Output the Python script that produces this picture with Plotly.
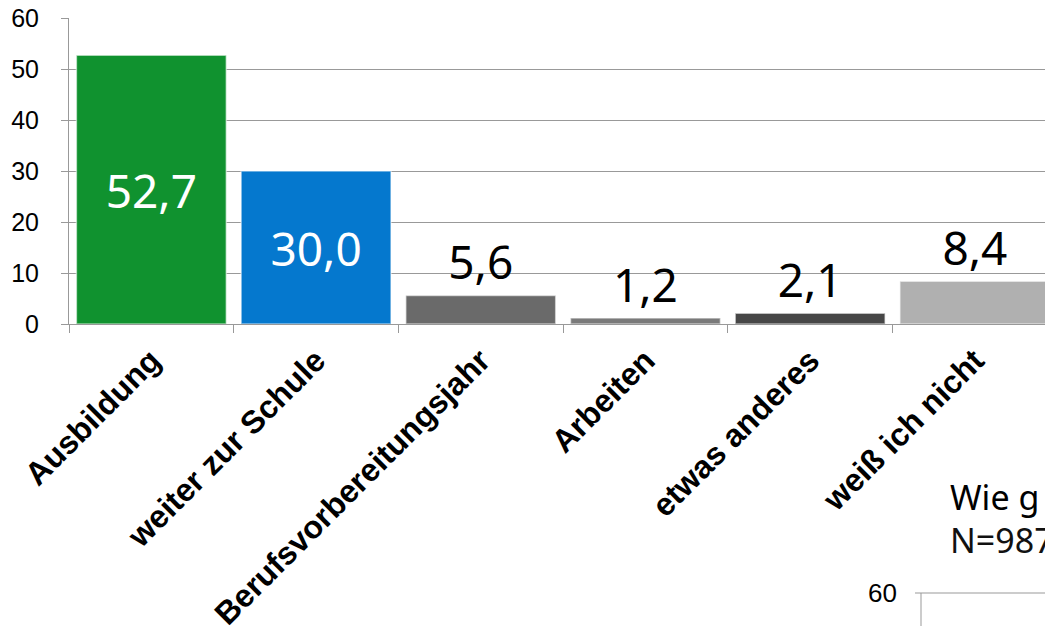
import plotly.graph_objects as go

categories = ["Ausbildung", "weiter zur Schule", "Berufsvorbereitungsjahr",
              "Arbeiten", "etwas anderes", "weiß ich nicht"]
values = [52.7, 30.0, 5.6, 1.2, 2.1, 8.4]
colors = ["#10922F", "#0578CE", "#6A6A6A", "#7A7A7A", "#474747", "#B0B0B0"]
label_pos = ["inside", "inside", "outside", "outside", "outside", "outside"]
label_colors = ["white", "white", "black", "black", "black", "black"]
y_ticks = [0, 10, 20, 30, 40, 50, 60]

W, H = 1045, 626
L, R, T, B = 69, 0, 18, 302

def px(x):
    return (x - L) / (W - L - R)

def py(y):
    return (H - B - y) / (H - T - B)

texts = [f"{v:.1f}".replace(".", ",") for v in values]

fig = go.Figure()
fig.add_trace(go.Bar(
    x=categories, y=values,
    marker=dict(color=colors, line=dict(color="rgba(255,255,255,0.55)", width=1.5)),
    width=0.91,
    text=texts, textposition=label_pos, insidetextanchor="middle",
    textfont=dict(family="Noto Sans", size=46, color=label_colors),
    constraintext="none", cliponaxis=False,
))

fig.update_layout(
    width=W, height=H,
    margin=dict(l=L, r=R, t=T, b=B, pad=0, autoexpand=False),
    plot_bgcolor="white", paper_bgcolor="white",
    showlegend=False,
    bargap=0.09,
    xaxis=dict(
        range=[-0.5, -0.5 + (W - L) / 164.7],
        automargin=False,
        tickangle=-45, tickson="boundaries", ticks="outside", ticklen=8,
        tickcolor="#999999", tickwidth=1,
        showline=True, linecolor="#999999", linewidth=1,
        tickfont=dict(family="Liberation Sans", size=32, color="black", weight="bold"),
        ticklabelstandoff=4,
        showgrid=False,
    ),
    yaxis=dict(
        range=[0, 60], tickvals=y_ticks, ticks="outside", ticklen=7,
        automargin=False,
        tickcolor="#999999", showline=True, linecolor="#999999", linewidth=1,
        gridcolor="#999999", gridwidth=1, zeroline=False,
        tickfont=dict(family="Liberation Sans", size=25, color="black"),
        ticklabelstandoff=17,
    ),
)

# partially visible next chart (bottom right)
fig.add_annotation(xref="paper", yref="paper", x=px(948), y=py(497), text="Wie g",
                   showarrow=False, xanchor="left", yanchor="middle",
                   font=dict(family="Noto Sans", size=34, color="black"))
fig.add_annotation(xref="paper", yref="paper", x=px(948), y=py(540), text="N=987",
                   showarrow=False, xanchor="left", yanchor="middle",
                   font=dict(family="Noto Sans", size=34, color="#111111"))
fig.add_annotation(xref="paper", yref="paper", x=px(899), y=py(593), text="60",
                   showarrow=False, xanchor="right", yanchor="middle",
                   font=dict(family="Liberation Sans", size=26, color="black"))
fig.add_annotation(xref="paper", yref="paper", x=px(899), y=py(636), text="50",
                   showarrow=False, xanchor="right", yanchor="middle",
                   font=dict(family="Liberation Sans", size=26, color="black"))
fig.add_shape(type="line", xref="paper", yref="paper", x0=px(915), x1=px(1045),
              y0=py(593), y1=py(593), line=dict(color="#999999", width=1))
fig.add_shape(type="line", xref="paper", yref="paper", x0=px(921), x1=px(921),
              y0=py(593), y1=py(640), line=dict(color="#999999", width=1))

fig.write_html("out.html")
